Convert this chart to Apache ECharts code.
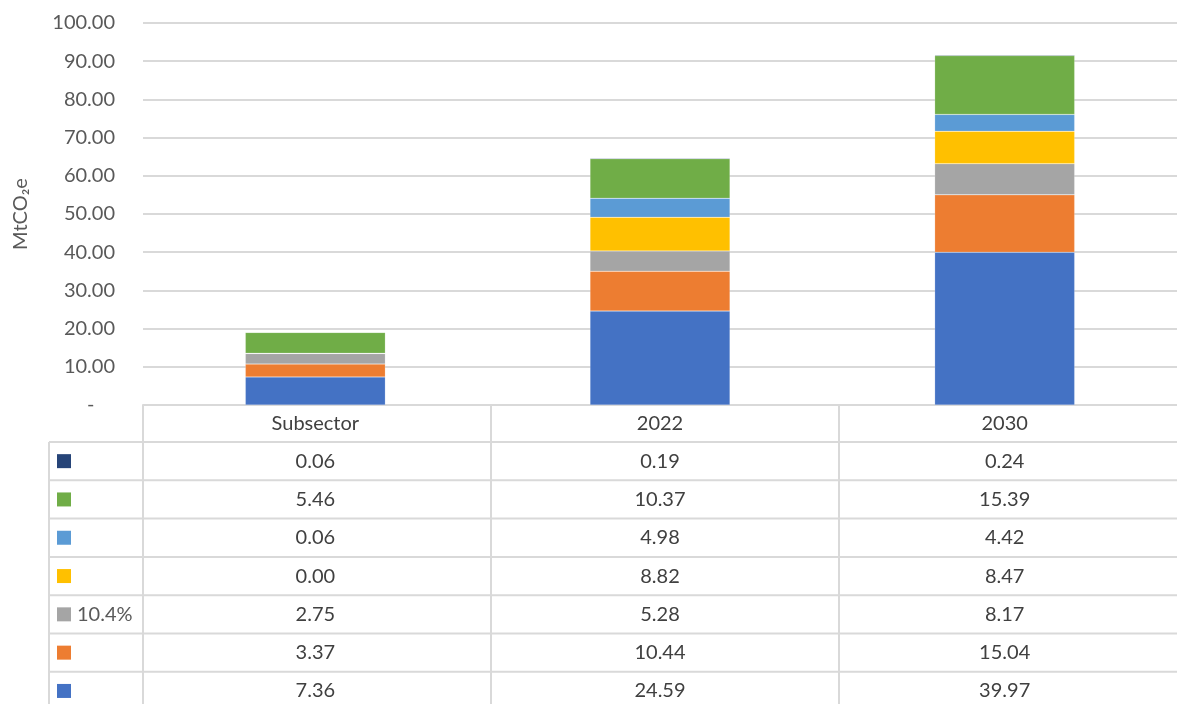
<!DOCTYPE html>
<html>
<head>
<meta charset="utf-8">
<script src="https://cdn.jsdelivr.net/npm/echarts@6/dist/echarts.min.js"></script>
<style>
  html, body { margin: 0; padding: 0; background: #fff; }
  #chart { width: 1177px; height: 704px; }
</style>
</head>
<body>
<div id="chart"></div>
<script>
  // categories and series, stack order bottom -> top
  const categories = ['Subsector', '2022', '2030'];
  const seriesNames = ['', '', '10.4%', '', '', '', ''];
  const seriesColors = ['#4472C4', '#ED7D31', '#A5A5A5', '#FFC000', '#5B9BD5', '#70AD47', '#264478'];
  const blueVals = [7.36, 24.59, 39.97];
  const orangeVals = [3.37, 10.44, 15.04];
  const grayVals = [2.75, 5.28, 8.17];
  const yellowVals = [0.00, 8.82, 8.47];
  const lightBlueVals = [0.06, 4.98, 4.42];
  const greenVals = [5.46, 10.37, 15.39];
  const darkBlueVals = [0.06, 0.19, 0.24];
  const allVals = [blueVals, orangeVals, grayVals, yellowVals, lightBlueVals, greenVals, darkBlueVals];
  const yTicks = [0, 10, 20, 30, 40, 50, 60, 70, 80, 90, 100];

  const FONT = 'Lato';
  const gridLeft = 143, gridTop = 23, gridH = 382;
  const colW = 348;
  const rowH = 38.3;
  const lineColor = '#d9d9d9';

  const chart = echarts.init(document.getElementById('chart'));

  const option = {
    animation: false,
    textStyle: { fontFamily: FONT },
    grid: { left: gridLeft, top: gridTop, width: colW * categories.length, height: gridH },
    xAxis: {
      type: 'category',
      data: categories,
      axisLine: { lineStyle: { color: lineColor, width: 2 } },
      axisTick: { show: false },
      axisLabel: { color: '#404040', fontSize: 20, fontFamily: FONT, margin: 9 },
    },
    yAxis: {
      type: 'value',
      min: yTicks[0],
      max: yTicks[yTicks.length - 1],
      interval: 10,
      name: 'MtCO₂e',
      nameLocation: 'middle',
      nameGap: 112,
      nameTextStyle: { color: '#595959', fontSize: 20, fontFamily: FONT },
      axisLine: { show: false },
      axisTick: { show: false },
      splitLine: { lineStyle: { color: lineColor, width: 2 } },
      axisLabel: {
        color: '#595959', fontSize: 20, fontFamily: FONT, margin: 28,
        formatter: (v) => (v === 0 ? '-    ' : v.toFixed(2)),
      },
    },
    series: allVals.map((vals, i) => ({
      name: seriesNames[i],
      type: 'bar',
      stack: 'total',
      barWidth: 140,
      data: vals,
      itemStyle: { color: seriesColors[i], borderColor: 'rgba(255,255,255,0.35)', borderWidth: 0.5 },
    })),
  };
  chart.setOption(option);

  // data table under the axis, built from the same arrays
  const tableTop = gridTop + gridH;
  const leftCol = 49;
  const centers = categories.map((c) => chart.convertToPixel({ xAxisIndex: 0 }, c));
  const rightEdge = gridLeft + colW * categories.length;
  const graphic = [];
  const headerBottom = tableTop + 37;
  const rowOrder = [6, 5, 4, 3, 2, 1, 0];

  rowOrder.forEach((si, r) => {
    const y0 = headerBottom + r * rowH;
    graphic.push({
      type: 'line', silent: true,
      shape: { x1: leftCol, y1: y0, x2: rightEdge, y2: y0 },
      style: { stroke: lineColor, lineWidth: 2 },
    });
    graphic.push({
      type: 'rect', silent: true,
      shape: { x: 57, y: y0 + rowH / 2 - 7, width: 14, height: 14 },
      style: { fill: seriesColors[si] },
    });
    if (seriesNames[si]) {
      graphic.push({
        type: 'text', silent: true, x: 77, y: y0 + rowH / 2,
        style: { text: seriesNames[si], fill: '#595959', font: '20px ' + FONT, verticalAlign: 'middle' },
      });
    }
    allVals[si].forEach((v, ci) => {
      graphic.push({
        type: 'text', silent: true, x: centers[ci], y: y0 + rowH / 2,
        style: { text: v.toFixed(2), fill: '#404040', font: '20px ' + FONT, align: 'center', verticalAlign: 'middle' },
      });
    });
  });

  // vertical lines
  graphic.push({
    type: 'line', silent: true,
    shape: { x1: leftCol, y1: headerBottom, x2: leftCol, y2: 704 },
    style: { stroke: lineColor, lineWidth: 2 },
  });
  for (let i = 0; i <= categories.length; i++) {
    const x = gridLeft + colW * i;
    graphic.push({
      type: 'line', silent: true,
      shape: { x1: x, y1: tableTop, x2: x, y2: 704 },
      style: { stroke: lineColor, lineWidth: 2 },
    });
  }

  chart.setOption({ graphic: graphic });
</script>
</body>
</html>
